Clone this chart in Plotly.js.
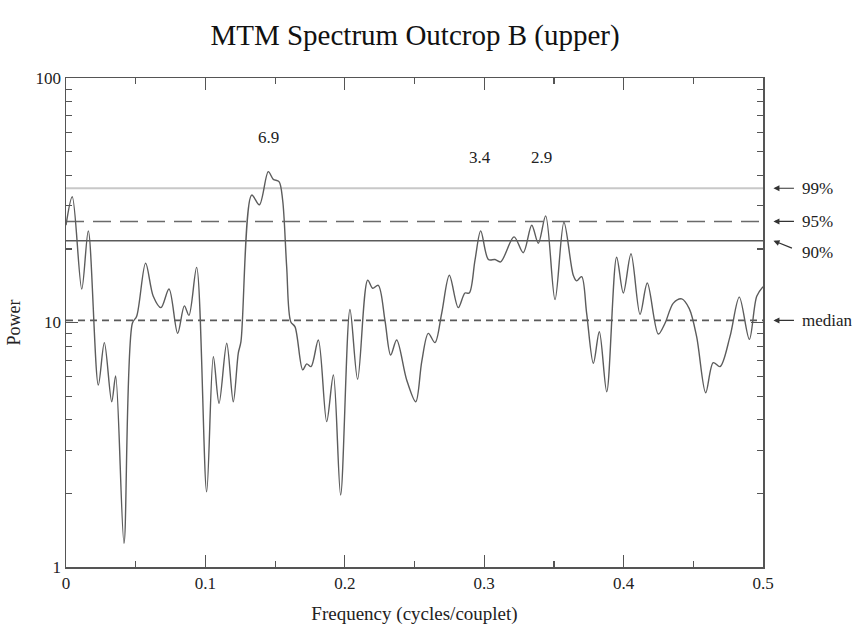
<!DOCTYPE html>
<html>
<head>
<meta charset="utf-8">
<script src="https://cdn.plot.ly/plotly-3.0.1.min.js"></script>
<style>html,body{margin:0;padding:0;background:#fff;}#chart{width:854px;height:631px;}</style>
</head>
<body>
<div id="chart"></div>
<script>
// Frequency (cycles/couplet) and MTM power
var freq = [0.000,0.0045,0.0113,0.016,0.0232,0.0275,0.0328,0.0356,0.0416,0.0476,0.0507,0.0571,0.0626,0.0681,0.0739,0.0801,0.0849,0.0882,0.0937,0.1009,0.1057,0.1098,0.1153,0.1200,0.1236,0.1255,0.1332,0.1387,0.1451,0.1487,0.1528,0.1554,0.1583,0.1612,0.1643,0.1698,0.1727,0.1758,0.181,0.187,0.1918,0.197,0.2037,0.2092,0.2164,0.220,0.224,0.2288,0.2329,0.2372,0.2444,0.2509,0.2552,0.2599,0.2647,0.2695,0.275,0.2814,0.2862,0.2893,0.2934,0.2975,0.303,0.3077,0.3118,0.3214,0.328,0.3341,0.3388,0.3441,0.3508,0.3572,0.3639,0.3663,0.3699,0.3735,0.3783,0.3826,0.3879,0.395,0.3998,0.4053,0.4118,0.417,0.4249,0.4297,0.4357,0.4417,0.4471,0.4524,0.4589,0.4643,0.4692,0.4763,0.483,0.4902,0.4955,0.500];
var power = [25.0,32.7,13.7,23.7,5.55,8.27,4.74,6.04,1.25,9.93,10.6,17.5,12.8,11.5,13.7,9.03,11.7,10.7,16.8,2.03,7.24,4.67,8.22,4.74,7.5,8.35,33.2,30.3,41.4,38.5,37.7,31.7,16.9,10.08,9.6,6.4,6.77,6.6,8.48,3.93,6.1,1.97,11.3,5.86,14.9,13.8,14.2,10.2,7.36,8.48,5.82,4.74,6.92,9.03,8.27,10.9,15.6,11.5,13.2,13.2,18.0,23.7,18.1,18.1,17.7,22.4,19.3,25.0,21.1,27.3,12.4,25.7,15.6,14.8,15.4,10.9,6.81,9.17,5.21,18.5,13.2,19.1,10.8,14.5,8.97,9.93,12.0,12.5,11.4,8.75,5.16,6.85,6.6,8.75,12.7,8.53,12.8,14.0];

// Confidence levels
var levelNames = ["99%", "95%", "90%", "median"];
var levelValues = [35.4, 25.9, 21.6, 10.2];

// Peak period labels (couplets)
var peakLabels = ["6.9", "3.4", "2.9"];
var peakFreqs = [0.145, 0.297, 0.341];
var peakLabelPower = [57, 47.5, 47.5];

var xRange = [0, 0.5];
var xTickVals = [0, 0.1, 0.2, 0.3, 0.4, 0.5];
var xTickText = ["0", "0.1", "0.2", "0.3", "0.4", "0.5"];
var yTickVals = [1, 10, 100];
var yTickText = ["1", "10", "100"];

var FONT = "Liberation Serif, Times New Roman, serif";
var levelStyles = [
  {color: "#c8c8c8", width: 2, dash: "solid"},
  {color: "#6a6a6a", width: 1.5, dash: "18px,9px"},
  {color: "#5a5a5a", width: 1.6, dash: "solid"},
  {color: "#5a5a5a", width: 1.6, dash: "7px,5px"}
];

var traces = [];
for (var i = 0; i < levelValues.length; i++) {
  traces.push({
    x: xRange, y: [levelValues[i], levelValues[i]],
    mode: "lines", type: "scatter", hoverinfo: "skip",
    line: levelStyles[i], showlegend: false
  });
}
traces.push({
  x: freq, y: power, mode: "lines", type: "scatter",
  line: {color: "#5c5c5c", width: 1.4, shape: "spline", smoothing: 0.9},
  showlegend: false
});

var annotations = [];
for (var j = 0; j < peakLabels.length; j++) {
  annotations.push({
    x: peakFreqs[j], y: Math.log10(peakLabelPower[j]), xref: "x", yref: "y",
    text: peakLabels[j], showarrow: false,
    font: {family: FONT, size: 17, color: "#222"}
  });
}
var arrowAx = [22, 22, 20, 22];
var arrowAy = [0, 0, 8, 0];
var textDy = [0, 0, 12, 0];
for (var k = 0; k < levelNames.length; k++) {
  annotations.push({
    x: 1.015, y: Math.log10(levelValues[k]), xref: "paper", yref: "y",
    text: "", showarrow: true, ax: arrowAx[k], ay: arrowAy[k],
    arrowhead: 2, arrowsize: 1, arrowwidth: 1.2, arrowcolor: "#333"
  });
  annotations.push({
    x: 1.015, y: Math.log10(levelValues[k]), xref: "paper", yref: "y",
    text: levelNames[k], showarrow: false, xanchor: "left", yanchor: "middle",
    xshift: 27, yshift: -textDy[k],
    font: {family: FONT, size: 17, color: "#222"}
  });
}

var layout = {
  width: 854, height: 631,
  margin: {l: 66, r: 91, t: 78, b: 64},
  paper_bgcolor: "#fff", plot_bgcolor: "#fff",
  title: {text: "MTM Spectrum Outcrop B (upper)", x: 0.486, xanchor: "center", y: 0.945, yanchor: "middle",
          font: {family: FONT, size: 29, color: "#111"}},
  xaxis: {
    range: xRange, showgrid: false, zeroline: false,
    showline: true, linecolor: "#555", linewidth: 1.5, mirror: "allticks",
    ticks: "inside", ticklen: 12, tickwidth: 1.3, tickcolor: "#555",
    tickvals: xTickVals, ticktext: xTickText,
    minor: {dtick: 0.05, tick0: 0, ticks: "inside", ticklen: 6, tickwidth: 1.2, tickcolor: "#555"},
    tickfont: {family: FONT, size: 17, color: "#222"},
    title: {text: "Frequency (cycles/couplet)", font: {family: FONT, size: 19, color: "#222"}, standoff: 15}
  },
  yaxis: {
    type: "log", range: [0, 2], showgrid: false, zeroline: false,
    showline: true, linecolor: "#555", linewidth: 1.5, mirror: "allticks",
    ticks: "inside", ticklen: 12, tickwidth: 1.3, tickcolor: "#555",
    tickvals: yTickVals, ticktext: yTickText,
    minor: {dtick: "D1", ticks: "inside", ticklen: 6, tickwidth: 1.2, tickcolor: "#555"},
    tickfont: {family: FONT, size: 17, color: "#222"},
    title: {text: "Power", font: {family: FONT, size: 18, color: "#222"}, standoff: 10}
  },
  annotations: annotations
};

Plotly.newPlot("chart", traces, layout, {displayModeBar: false, staticPlot: true});
</script>
</body>
</html>
